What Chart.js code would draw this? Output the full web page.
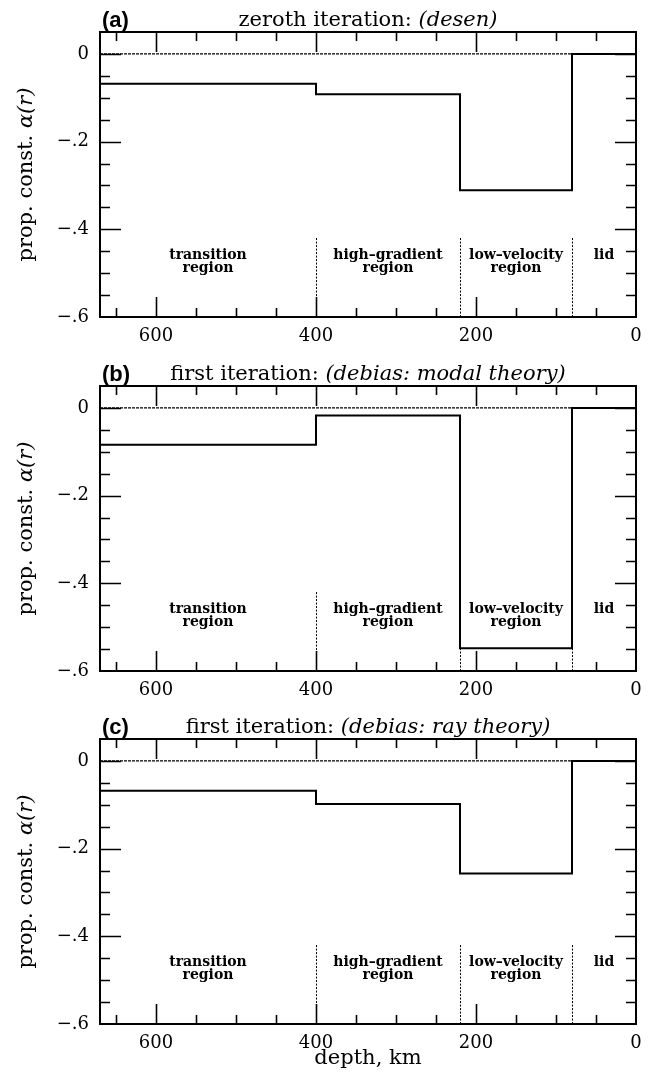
<!DOCTYPE html>
<html>
<head>
<meta charset="utf-8">
<script src="https://cdn.jsdelivr.net/npm/chart.js@4/dist/chart.umd.min.js"></script>
<style>
  html, body { margin: 0; padding: 0; background: #fff; }
  #wrap { position: relative; width: 655px; height: 1074px; }
  .panel { position: absolute; left: 0; width: 655px; }
  canvas { display: block; }
</style>
</head>
<body>
<div id="wrap">
  <div class="panel" style="top:0px"><canvas id="cA" width="655" height="354"></canvas></div>
  <div class="panel" style="top:354px"><canvas id="cB" width="655" height="354"></canvas></div>
  <div class="panel" style="top:707px"><canvas id="cC" width="655" height="367"></canvas></div>
</div>
<script>
// Depth boundaries of the layers (km), from the bottom of the model to the surface
const depthEdges = [670, 400, 220, 80, 0];
const regionNames = [["transition", "region"], ["high\u2013gradient", "region"], ["low\u2013velocity", "region"], ["lid"]];

// Proportionality constant alpha(r) in each layer (transition, high-gradient, low-velocity, lid)
const alphaDesen = [-0.068, -0.092, -0.311, 0.0];
const alphaModal = [-0.084, -0.017, -0.548, 0.0];
const alphaRay   = [-0.068, -0.098, -0.257, 0.0];

// Labelled ticks
const depthTicks = [600, 400, 200, 0];
const alphaTicks = [0, -0.2, -0.4, -0.6];

// Panel headings
const panelTags    = ["(a)", "(b)", "(c)"];
const titlesRoman  = ["zeroth iteration: ", "first iteration: ", "first iteration: "];
const titlesItalic = ["(desen)", "(debias: modal theory)", "(debias: ray theory)"];

const SERIF = "'DejaVu Serif', 'Liberation Serif', serif";
Chart.defaults.font.family = SERIF;
Chart.defaults.color = '#000';

// Turn layer values into the points of a stepped profile
function stepPoints(vals) {
  const pts = [];
  vals.forEach((v, i) => {
    pts.push({ x: depthEdges[i], y: v });
    pts.push({ x: depthEdges[i + 1], y: v });
  });
  return pts;
}

function fmtAlpha(v) {
  if (Math.abs(v) < 1e-9) return '0';
  return '\u2212' + String(Math.abs(v)).replace(/^0/, '');
}

// Frame, inward ticks, zero line, region separators and texts
const framePlugin = {
  id: 'frame',
  beforeDatasetsDraw(chart) {
    const ctx = chart.ctx, xs = chart.scales.x, ys = chart.scales.y;
    const { left, right, top, bottom } = chart.chartArea;
    ctx.save();
    ctx.strokeStyle = '#000';
    // zero reference line
    ctx.lineWidth = 1.2;
    ctx.setLineDash([3, 1]);
    const y0 = ys.getPixelForValue(0);
    ctx.beginPath(); ctx.moveTo(left, y0); ctx.lineTo(right, y0); ctx.stroke();
    // region separators
    ctx.lineWidth = 1;
    ctx.setLineDash([2, 1.5]);
    for (let i = 1; i < depthEdges.length - 1; i++) {
      const px = Math.round(xs.getPixelForValue(depthEdges[i])) + 0.5;
      ctx.beginPath();
      ctx.moveTo(px, ys.getPixelForValue(-0.42));
      ctx.lineTo(px, bottom);
      ctx.stroke();
    }
    ctx.setLineDash([]);
    // region names
    ctx.font = 'bold 14px ' + SERIF;
    ctx.fillStyle = '#000';
    ctx.textAlign = 'center';
    ctx.textBaseline = 'middle';
    const lineVals = [-0.459, -0.490];
    regionNames.forEach((lines, i) => {
      const cx = xs.getPixelForValue((depthEdges[i] + depthEdges[i + 1]) / 2);
      lines.forEach((t, k) => ctx.fillText(t, cx, ys.getPixelForValue(lineVals[k])));
    });
    ctx.restore();
  },
  afterDatasetsDraw(chart) {
    const ctx = chart.ctx, xs = chart.scales.x, ys = chart.scales.y;
    const { left, right, top, bottom } = chart.chartArea;
    ctx.save();
    ctx.strokeStyle = '#000';
    ctx.lineWidth = 1.6;
    ctx.beginPath();
    for (let d = 50; d < xs.max; d += 50) {
      const px = Math.round(xs.getPixelForValue(d)) + 0.5;
      const L = depthTicks.includes(d) ? 20 : 9;
      ctx.moveTo(px, bottom); ctx.lineTo(px, bottom - L);
      ctx.moveTo(px, top); ctx.lineTo(px, top + L);
    }
    for (let k = 0; k < 12; k++) {
      const v = -0.05 * k;
      const py = Math.round(ys.getPixelForValue(v)) + 0.5;
      const major = alphaTicks.some(t => Math.abs(t - v) < 1e-6);
      const L = major ? 21 : 10;
      ctx.moveTo(left, py); ctx.lineTo(left + L, py);
      ctx.moveTo(right, py); ctx.lineTo(right - L, py);
    }
    ctx.stroke();
    ctx.lineWidth = 2;
    ctx.strokeRect(left, top, right - left, bottom - top);
    ctx.restore();
  },
  afterDraw(chart, args, opts) {
    const ctx = chart.ctx;
    const { left, right, top, bottom } = chart.chartArea;
    const i = opts.index;
    ctx.save();
    ctx.fillStyle = '#000';
    ctx.textBaseline = 'alphabetic';
    // panel tag
    ctx.font = "bold 22px 'Liberation Sans', Arial, sans-serif";
    ctx.textAlign = 'left';
    ctx.fillText(panelTags[i], 102, top - 5);
    // heading: roman part + italic part, centred over the plot
    const fR = '21px ' + SERIF, fI = 'italic 21px ' + SERIF;
    ctx.font = fR; const wR = ctx.measureText(titlesRoman[i]).width;
    ctx.font = fI; const wI = ctx.measureText(titlesItalic[i]).width;
    let x = (left + right) / 2 - (wR + wI) / 2;
    ctx.font = fR; ctx.fillText(titlesRoman[i], x, top - 6);
    ctx.font = fI; ctx.fillText(titlesItalic[i], x + wR, top - 6);
    // vertical axis title
    ctx.translate(32, (top + bottom) / 2);
    ctx.rotate(-Math.PI / 2);
    const a = 'prop. const. ', b = '\u03b1(r)';
    const fY = '21px ' + SERIF, fYi = 'italic 21px ' + SERIF;
    ctx.font = fY; const wa = ctx.measureText(a).width;
    ctx.font = fYi; const wb = ctx.measureText(b).width;
    ctx.font = fY; ctx.fillText(a, -(wa + wb) / 2, 0);
    ctx.font = fYi; ctx.fillText(b, -(wa + wb) / 2 + wa, 0);
    ctx.restore();
  }
};

function makePanel(canvasId, vals, index, withXTitle) {
  const H = document.getElementById(canvasId).height;
  return new Chart(document.getElementById(canvasId), {
    type: 'line',
    data: {
      datasets: [{
        data: stepPoints(vals),
        borderColor: '#000',
        borderWidth: 2,
        pointRadius: 0,
        tension: 0,
        fill: false
      }]
    },
    options: {
      responsive: false,
      animation: false,
      events: [],
      layout: { padding: { top: 32, right: 19, left: 0, bottom: 0 } },
      plugins: {
        legend: { display: false },
        tooltip: { enabled: false },
        frame: { index }
      },
      scales: {
        x: {
          type: 'linear',
          reverse: true,
          min: 0,
          max: 670,
          afterBuildTicks: s => { s.ticks = depthTicks.map(v => ({ value: v })); },
          afterFit: s => { s.height = H - 317; },
          grid: { display: false, drawTicks: false },
          border: { display: false },
          ticks: {
            autoSkip: false, maxRotation: 0, padding: 9,
            font: { size: 18 }, color: '#000',
            callback: v => String(v)
          },
          title: {
            display: withXTitle,
            text: 'depth, km',
            font: { size: 21 },
            color: '#000',
            padding: { top: 0, bottom: 3 }
          }
        },
        y: {
          type: 'linear',
          min: -0.6,
          max: 0.05,
          afterBuildTicks: s => { s.ticks = alphaTicks.map(v => ({ value: v })); },
          afterFit: s => { s.width = 100; },
          grid: { display: false, drawTicks: false },
          border: { display: false },
          ticks: {
            autoSkip: false, padding: 11,
            font: { size: 18 }, color: '#000',
            callback: v => fmtAlpha(v)
          }
        }
      }
    },
    plugins: [framePlugin]
  });
}

makePanel('cA', alphaDesen, 0, false);
makePanel('cB', alphaModal, 1, false);
makePanel('cC', alphaRay, 2, true);
</script>
</body>
</html>
